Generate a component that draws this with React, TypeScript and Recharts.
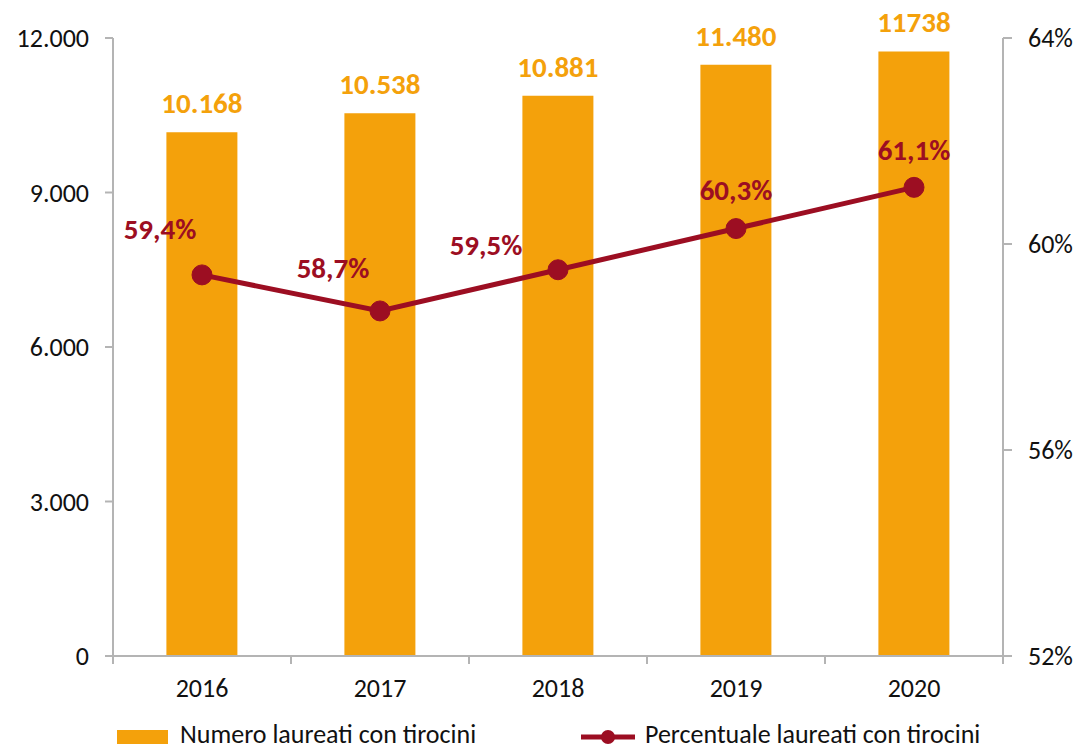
import React from 'react';
import { ComposedChart, Bar, Line, XAxis, YAxis, LabelList } from 'recharts';

const years = ['2016', '2017', '2018', '2019', '2020'];
const graduates = [10168, 10538, 10881, 11480, 11738];
const graduateLabels = ['10.168', '10.538', '10.881', '11.480', '11738'];
const percentages = [59.4, 58.7, 59.5, 60.3, 61.1];
const percentLabels = ['59,4%', '58,7%', '59,5%', '60,3%', '61,1%'];
const leftTicks = [0, 3000, 6000, 9000, 12000];
const rightTicks = [52, 56, 60, 64];
const seriesNames = ['Numero laureati con tirocini', 'Percentuale laureati con tirocini'];

// label placement offsets (style, not data)
const pctLabelOffsets: [number, number][] = [
  [-42, -46],
  [-47, -43],
  [-72, -25],
  [0, -39],
  [0, -37],
];

const data = years.map((y, i) => ({
  year: y,
  graduates: graduates[i],
  pct: percentages[i],
  gLabel: graduateLabels[i],
  pLabel: percentLabels[i],
}));

const W = 1079;
const H = 744;
const LEFT_W = 113;
const RIGHT_W = 76;
const BAND = (W - LEFT_W - RIGHT_W) / years.length;
const FONT = 'Calibri, Carlito, Lato, sans-serif';
const ORANGE = '#F4A10B';
const RED = '#9C0E22';
const AXIS = '#B4B4B4';
const TICK_FS = 26;
const LABEL_FS = 29;

const fmtThousands = (v: number) => String(v).replace(/\B(?=(\d{3})+(?!\d))/g, '.');

const XTick = (props: any) => {
  const { x, y, payload, index } = props;
  const half = BAND / 2;
  return (
    <g>
      <line x1={x - half} x2={x - half} y1={y} y2={y + 8} stroke={AXIS} strokeWidth={2} />
      {index === years.length - 1 && (
        <line x1={x + half} x2={x + half} y1={y} y2={y + 8} stroke={AXIS} strokeWidth={2} />
      )}
      <text x={x} y={y + 32} textAnchor="middle" dominantBaseline="central" fontSize={TICK_FS} fill="#111" fontFamily={FONT}>
        {payload.value}
      </text>
    </g>
  );
};

const PctLabel = (props: any) => {
  const { x, y, index, value } = props;
  const [dx, dy] = pctLabelOffsets[index] || [0, -30];
  return (
    <text x={x + dx} y={y + dy} textAnchor="middle" dominantBaseline="central" fontSize={LABEL_FS} fontWeight="bold" fill={RED} fontFamily={FONT}>
      {value}
    </text>
  );
};

export default function App() {
  return (
    <div style={{ position: 'fixed', left: 0, top: 0, width: W, height: H, background: '#fff', fontFamily: FONT, overflow: 'hidden' }}>
      <ComposedChart width={W} height={H} data={data} margin={{ top: 38, right: 0, left: 0, bottom: 0 }} barCategoryGap="30%">
        <XAxis
          dataKey="year"
          xAxisId="x"
          height={88}
          tickSize={0}
          tickMargin={0}
          axisLine={{ stroke: AXIS, strokeWidth: 2 }}
          tickLine={false}
          tick={<XTick />}
          interval={0}
        />
        <YAxis
          yAxisId="left"
          orientation="left"
          width={LEFT_W}
          domain={[0, 12000]}
          ticks={leftTicks}
          tickFormatter={fmtThousands}
          tickSize={8}
          tickMargin={16}
          axisLine={{ stroke: AXIS, strokeWidth: 2 }}
          tickLine={{ stroke: AXIS, strokeWidth: 2 }}
          tick={{ fontSize: TICK_FS, fill: '#111', fontFamily: FONT }}
          interval={0}
        />
        <YAxis
          yAxisId="right"
          orientation="right"
          width={RIGHT_W}
          domain={[52, 64]}
          ticks={rightTicks}
          tickFormatter={(v: number) => `${v}%`}
          tickSize={9}
          tickMargin={16}
          axisLine={{ stroke: AXIS, strokeWidth: 2 }}
          tickLine={{ stroke: AXIS, strokeWidth: 2 }}
          tick={{ fontSize: TICK_FS, fill: '#111', fontFamily: FONT }}
          interval={0}
        />
        <Bar dataKey="graduates" xAxisId="x" yAxisId="left" fill={ORANGE} isAnimationActive={false} name={seriesNames[0]}>
          <LabelList dataKey="gLabel" position="top" offset={19} fill={ORANGE} fontSize={LABEL_FS} fontWeight="bold" fontFamily={FONT} />
        </Bar>
        <Line
          dataKey="pct"
          xAxisId="x"
          yAxisId="right"
          stroke={RED}
          strokeWidth={5}
          dot={{ r: 10, fill: RED, stroke: RED, strokeWidth: 1 }}
          activeDot={false}
          isAnimationActive={false}
          name={seriesNames[1]}
        >
          <LabelList dataKey="pLabel" content={<PctLabel />} />
        </Line>
      </ComposedChart>
      <svg width={W} height={40} style={{ position: 'absolute', left: 0, top: H - 40 }}>
        <rect x={117} y={26} width={51} height={16} fill={ORANGE} />
        <text x={180} y={39} fontSize={TICK_FS} fill="#111" fontFamily={FONT}>
          {seriesNames[0]}
        </text>
        <line x1={581} x2={635} y1={33} y2={33} stroke={RED} strokeWidth={5} />
        <circle cx={608} cy={33} r={7} fill={RED} />
        <text x={645} y={39} fontSize={TICK_FS} fill="#111" fontFamily={FONT}>
          {seriesNames[1]}
        </text>
      </svg>
    </div>
  );
}
